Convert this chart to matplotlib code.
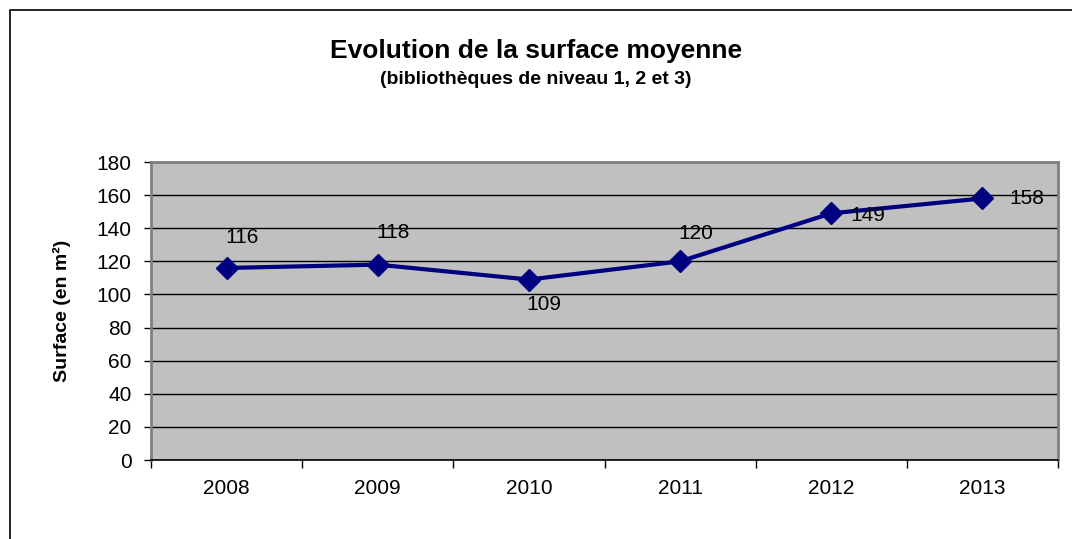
import matplotlib.pyplot as plt
import numpy as np
from matplotlib.patches import Rectangle

# -------------------------
# data
# -------------------------

years = ["2008", "2009", "2010", "2011", "2012", "2013"]
surface = [116, 118, 109, 120, 149, 158]

# label offsets in points (Excel auto placement)
label_offsets = [(11, 22), (11, 23), (11, -18), (11, 20), (26, -1.5), (32, 0)]

W, H = 1072, 539
plt.rcParams["font.family"] = ["Liberation Sans", "DejaVu Sans"]

fig = plt.figure(figsize=(W / 100, H / 100), dpi=100)
ax = fig.add_axes([151 / W, 1 - 460 / H, (1058 - 151) / W, (460 - 162) / H])

# -------------------------
# plot
# -------------------------

x = np.arange(len(years))
ax.set_facecolor("#C0C0C0")
ax.plot(x, surface, color="#000080", lw=3, marker="D", markersize=11,
        zorder=3, clip_on=False)

for xi, v, off in zip(x, surface, label_offsets):
    ax.annotate(str(v), (xi, v), xytext=off, textcoords="offset points",
                ha="center", va="center", fontsize=15, color="black", zorder=4)

ax.set_xlim(-0.5, len(years) - 0.5)
ax.set_ylim(0, 180)
ax.set_yticks(np.arange(0, 181, 20))
ax.yaxis.grid(True, color="black", lw=1)
ax.set_axisbelow(True)

ax.set_xticks(x)
ax.set_xticklabels(years, fontsize=15)
ax.set_xticks(np.arange(-0.5, len(years), 1), minor=True)
ax.tick_params(axis="x", which="major", length=0, pad=14)
ax.tick_params(axis="x", which="minor", length=6, width=1, color="black")
ax.tick_params(axis="y", length=5, width=1, labelsize=15, pad=9)

for side in ["left", "top", "right"]:
    ax.spines[side].set_color("#808080")
    ax.spines[side].set_linewidth(2)
ax.spines["bottom"].set_color("black")
ax.spines["bottom"].set_linewidth(1.2)

ax.set_ylabel("Surface (en m²)", fontsize=14, fontweight="bold")
ax.yaxis.set_label_coords((71 - 151) / (1058 - 151), 0.5)

fig.text(0.5, 1 - 51 / H, "Evolution de la surface moyenne",
         ha="center", va="center", fontsize=19, fontweight="bold")
fig.text(0.5, 1 - 80 / H, "(bibliothèques de niveau 1, 2 et 3)",
         ha="center", va="center", fontsize=14, fontweight="bold")

# outer chart frame (cut off at right and bottom)
fig.add_artist(Rectangle((10 / W, -0.1), 1.2, 1.1 - 10 / H,
                         transform=fig.transFigure, fill=False,
                         edgecolor="black", lw=1.2))

fig.savefig("out.png", dpi=100)
